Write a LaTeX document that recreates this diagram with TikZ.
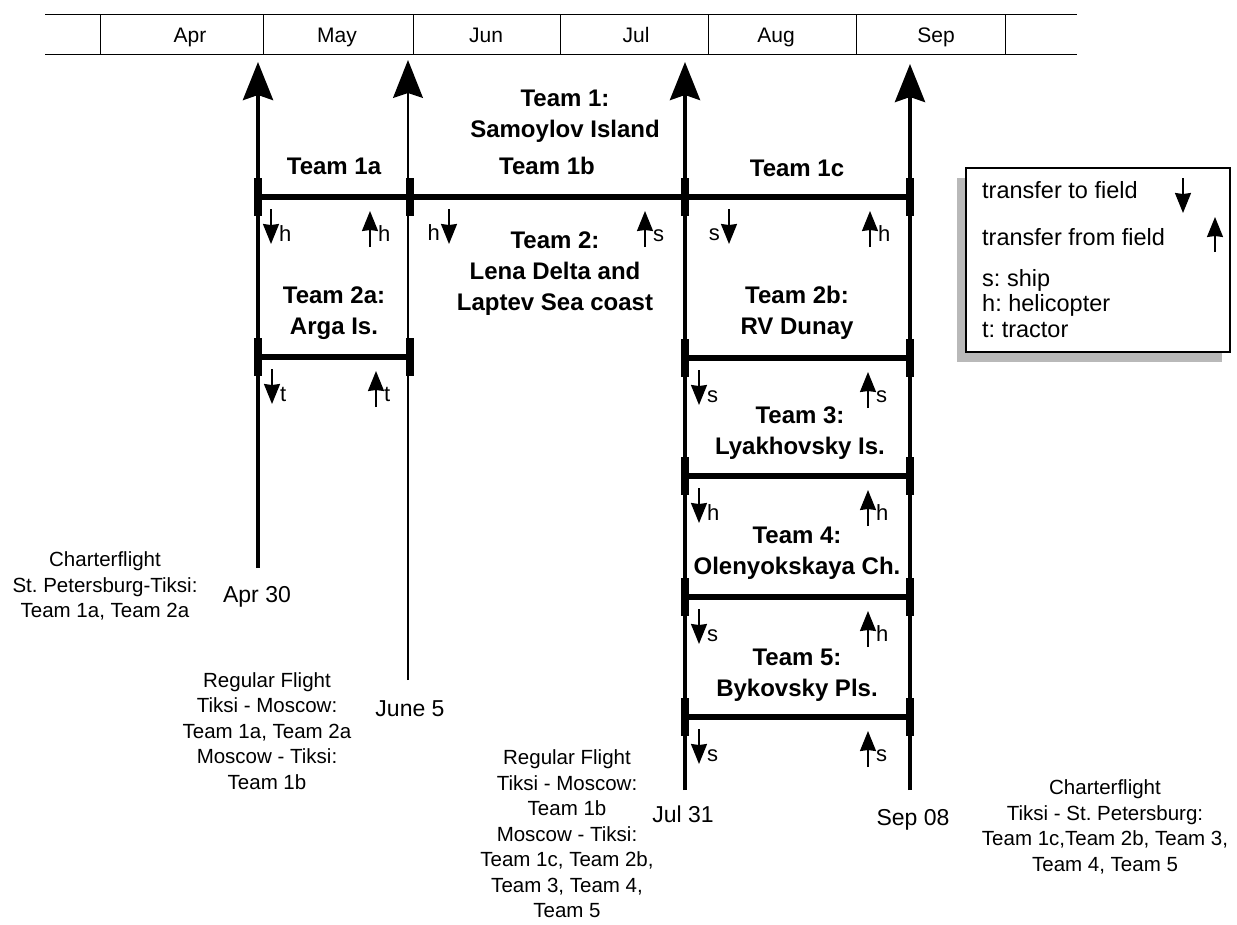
\documentclass[tikz,border=0pt]{standalone}
\usepackage{fontspec}
\setmainfont{Liberation Sans}
\usetikzlibrary{arrows.meta}
\frenchspacing
\begin{document}
\begin{tikzpicture}[x=1pt,y=-1pt,
 big/.style={line width=4pt, -{Stealth[length=38pt,width=30pt,inset=5pt]}},
 thinbig/.style={line width=1.4pt, -{Stealth[length=38pt,width=30pt,inset=5pt]}},
 bar/.style={line width=6pt},
 tickmark/.style={line width=8pt},
 sarrow/.style={line width=1.6pt, -{Stealth[length=20pt,width=16pt,inset=1pt]}},
 team/.style={font=\fontsize{24}{31}\selectfont\bfseries, align=center, inner sep=0pt},
 note/.style={font=\fontsize{20.5}{25.5}\selectfont, align=center, inner sep=0pt},
 datelab/.style={font=\fontsize{23}{28}\selectfont, inner sep=0pt},
 mon/.style={font=\fontsize{21}{25}\selectfont, inner sep=0pt, anchor=base},
 lab/.style={font=\fontsize{22}{25}\selectfont, inner sep=0pt},
 leg/.style={font=\fontsize{23.5}{25}\selectfont, inner sep=0pt, anchor=base west},
]
\useasboundingbox (0,0) rectangle (1237,924);
% month bar
\draw[line width=1pt] (45,14) -- (1077,14);
\draw[line width=1pt] (45,54) -- (1077,54);
\foreach \x in {100,263,413,560,708,856,1005} \draw[line width=1pt] (\x,14) -- (\x,54);
\node[mon] (apr) at (190,42) {Apr};
\node[mon] (may) at (337,42) {May};
\node[mon] (jun) at (486,42) {Jun};
\node[mon] (jul) at (636,42) {Jul};
\node[mon] (aug) at (776,42) {Aug};
\node[mon] (sep) at (936,42) {Sep};
% main vertical arrows
\coordinate (a30b) at (258,568); \coordinate (a30t) at (258,62);
\coordinate (j5b) at (408,680); \coordinate (j5t) at (408,60);
\coordinate (j31b) at (685,790); \coordinate (j31t) at (685,62);
\coordinate (s8b) at (910,790); \coordinate (s8t) at (910,64);
\draw[big] (a30b) -- (a30t);
\draw[thinbig] (j5b) -- (j5t);
\draw[big] (j31b) -- (j31t);
\draw[big] (s8b) -- (s8t);
% bars
\draw[bar] (258,197) -- (910,197);
\draw[bar] (258,357) -- (410,357);
\draw[bar] (685,358) -- (910,358);
\draw[bar] (685,476) -- (910,476);
\draw[bar] (685,597) -- (910,597);
\draw[bar] (685,717) -- (910,717);
\foreach \x/\y in {258/197,410/197,685/197,910/197,258/357,410/357,685/358,910/358,685/476,910/476,685/597,910/597,685/717,910/717}
  \draw[tickmark] (\x,\y-19) -- (\x,\y+19);
% team labels
\node[team] (t1) at (565,116) {Team 1:\\Samoylov Island};
\node[team] (t1a) at (334,166) {Team 1a};
\node[team] (t1b) at (547,166) {Team 1b};
\node[team] (t1c) at (797,168) {Team 1c};
\node[team] (t2) at (555,274) {Team 2:\\Lena Delta and\\Laptev Sea coast};
\node[team] (t2a) at (334,313) {Team 2a:\\Arga Is.};
\node[team] (t2b) at (797,313) {Team 2b:\\RV Dunay};
\node[team] (t3) at (800,433) {Team 3:\\Lyakhovsky Is.};
\node[team] (t4) at (797,553) {Team 4:\\Olenyokskaya Ch.};
\node[team] (t5) at (797,675) {Team 5:\\Bykovsky Pls.};
% small transfer arrows: right-labelled
\foreach \x/\y/\d/\l in {271/197/d/h,370/197/u/h,645/197/u/s,870/197/u/h,
  272/357/d/t,376/357/u/t,699/358/d/s,868/358/u/s,699/476/d/h,868/476/u/h,
  699/597/d/s,868/597/u/h,699/717/d/s,868/717/u/s}{
  \if\d d\draw[sarrow] (\x,\y+12) -- (\x,\y+47);\else\draw[sarrow] (\x,\y+50) -- (\x,\y+14);\fi
  \node[lab,anchor=base west] at (\x+8,\y+44) {\l};
}
% left-labelled
\foreach \x/\y/\l in {449/197/h,729/197/s}{
  \draw[sarrow] (\x,\y+12) -- (\x,\y+47);
  \node[lab,anchor=base east] at (\x-9,\y+43) {\l};
}
% dates
\node[datelab] (d1) at (257,597) {Apr 30};
\node[datelab] (d2) at (410,709) {June 5};
\node[datelab] (d3) at (683,814) {Jul 31};
\node[datelab] (d4) at (913,820) {Sep 08};
% notes
\node[note] (n1) at (105,586) {Charterflight\\St. Petersburg-Tiksi:\\Team 1a, Team 2a};
\node[note] (n2) at (267,731) {Regular Flight\\Tiksi - Moscow:\\Team 1a, Team 2a\\Moscow - Tiksi:\\Team 1b};
\node[note] (n3) at (567,834) {Regular Flight\\Tiksi - Moscow:\\Team 1b\\Moscow - Tiksi:\\Team 1c, Team 2b,\\Team 3, Team 4,\\Team 5};
\node[note] (n4) at (1105,827) {Charterflight\\Tiksi - St. Petersburg:\\Team 1c,Team 2b, Team 3,\\Team 4, Team 5};
% legend
\fill[gray!55] (957,178) rectangle (1222,362);
\draw[line width=1.2pt, fill=white] (966,168) rectangle (1230,352);
\node[leg] (l1) at (982,198) {transfer to field};
\node[leg] (l2) at (982,245) {transfer from field};
\node[leg] (l3) at (982,286) {s: ship};
\node[leg] (l4) at (982,311) {h: helicopter};
\node[leg] (l5) at (982,337) {t: tractor};
\draw[sarrow] (1183,178) -- (1183,213);
\draw[sarrow] (1215,252) -- (1215,217);
\end{tikzpicture}
\end{document}
